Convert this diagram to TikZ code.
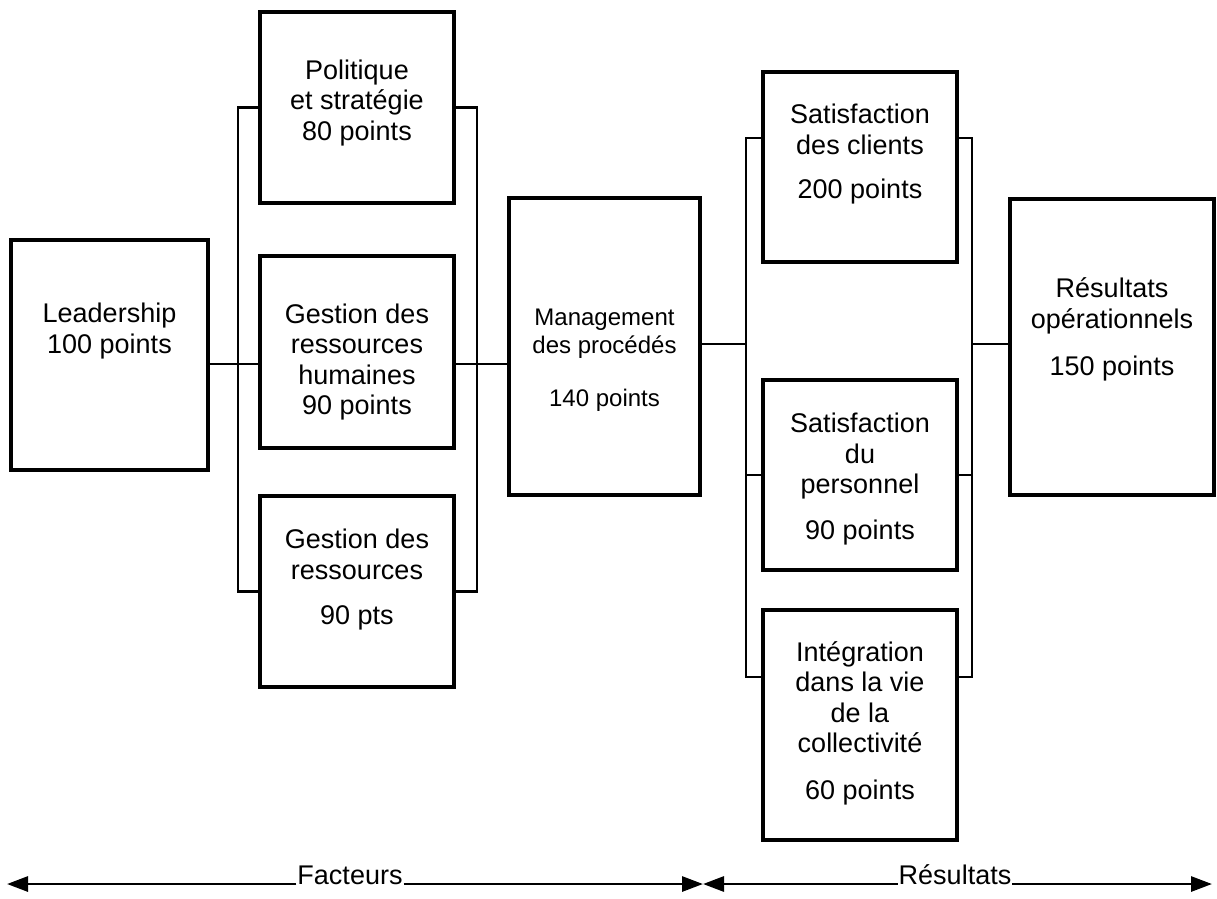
\documentclass[tikz,border=0pt]{standalone}
\usepackage{fontspec}
\setmainfont{Liberation Sans}
\usetikzlibrary{arrows.meta}
\begin{document}
\begin{tikzpicture}[x=1pt,y=-1pt,
  box/.style={draw,line width=3.2pt,rectangle,inner sep=0pt,outer sep=0pt},
  txt/.style={align=center,inner sep=0pt,font=\fontsize{27}{30.5}\selectfont},
  smalltxt/.style={align=center,inner sep=0pt,font=\fontsize{24}{28}\selectfont},
  conn/.style={line width=2.9pt},
  arr/.style={line width=2.9pt,-{Triangle[length=21pt,width=15pt]}},
  lbl/.style={fill=white,inner xsep=1pt,inner ysep=2pt,font=\fontsize{27}{30}\selectfont}]
\useasboundingbox (0,0) rectangle (1217,898);
% boxes
\node[box,minimum width=197,minimum height=230] (lead) at (109.5,355) {};
\node[box,minimum width=194,minimum height=191] (pol) at (357,107.5) {};
\node[box,minimum width=194,minimum height=192] (rh) at (357,352) {};
\node[box,minimum width=194,minimum height=191] (gr) at (357,591.5) {};
\node[box,minimum width=191,minimum height=297] (mg) at (604.5,346.5) {};
\node[box,minimum width=194,minimum height=190] (sc) at (860,167) {};
\node[box,minimum width=194,minimum height=190] (sp) at (860,475) {};
\node[box,minimum width=194,minimum height=230] (ig) at (860,725) {};
\node[box,minimum width=204,minimum height=296] (res) at (1112,347) {};
% texts
\node[txt] (leadt) at (109.5,331) {Leadership\\100 points};
\node[txt] (polt) at (357,103) {Politique\\et stratégie\\80 points};
\node[txt] (rht) at (357,362) {Gestion des\\ressources\\humaines\\90 points};
\node[txt] (grt) at (357,580) {Gestion des\\ressources\\[15pt]90 pts};
\node[smalltxt] (mgt) at (604.5,360.5) {Management\\des procédés\\[25pt]140 points};
\node[txt] (sct) at (860,154.5) {Satisfaction\\des clients\\[14pt]200 points};
\node[txt] (spt) at (860,479) {Satisfaction\\du\\personnel\\[15pt]90 points};
\node[txt] (igt) at (860,723) {Intégration\\dans la vie\\de la\\collectivité\\[16pt]60 points};
\node[txt] (rest) at (1112,329.5) {Résultats\\opérationnels\\[17pt]150 points};
% helper coordinates
\coordinate (yl) at (0,364);
\coordinate (yr) at (0,344);
\coordinate (ya) at (0,138);
\coordinate (yb) at (0,677);
\coordinate (xa) at (238,0);
\coordinate (xb) at (477,0);
\coordinate (xl) at (746,0);
\coordinate (xr) at (972,0);
% left brackets
\draw[conn] (pol.west) -| (xa |- gr.west) -- (gr.west);
\draw[conn] (pol.east) -| (xb |- gr.east) -- (gr.east);
\draw[conn] (lead.east |- yl) -- (rh.west |- yl);
\draw[conn] (rh.east |- yl) -- (mg.west |- yl);
% right brackets
\draw[conn] (sc.west |- ya) -| (xl |- yb) -- (ig.west |- yb);
\draw[conn] (sc.east |- ya) -| (xr |- yb) -- (ig.east |- yb);
\draw[conn] (sp.west) -- (sp.west -| xl);
\draw[conn] (sp.east) -- (sp.east -| xr);
\draw[conn] (mg.east |- yr) -- (xl |- yr);
\draw[conn] (xr |- yr) -- (res.west |- yr);
% bottom arrows
\coordinate (a0) at (7,884);
\coordinate (am) at (703,884);
\coordinate (a1) at (1212,884);
\node[lbl,anchor=base] (fac) at (350,884) {Facteurs};
\node[lbl,anchor=base] (rsl) at (955,884) {Résultats};
\draw[arr] (fac.base west) -- (a0);
\draw[arr] (fac.base east) -- (am);
\draw[arr] (rsl.base west) -- (am);
\draw[arr] (rsl.base east) -- (a1);
\end{tikzpicture}
\end{document}
